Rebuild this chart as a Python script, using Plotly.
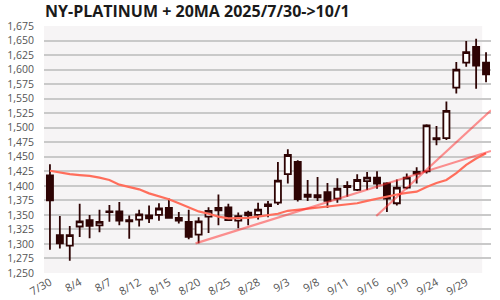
import plotly.graph_objects as go

dates = ['7/30','7/31','8/1','8/4','8/5','8/6','8/7','8/8','8/11','8/12',
         '8/13','8/14','8/15','8/18','8/19','8/20','8/21','8/22','8/25','8/26',
         '8/27','8/28','8/29','9/2','9/3','9/4','9/5','9/8','9/9','9/10',
         '9/11','9/12','9/15','9/16','9/17','9/18','9/19','9/22','9/23','9/24',
         '9/25','9/26','9/29','9/30','10/1']
open_ = [1418,1315,1297,1330,1341,1332,1356,1356,1341,1342,
         1349,1350,1362,1345,1338,1316,1347,1358,1363,1340,
         1354,1350,1365,1371,1420,1441,1381,1380,1389,1378,
         1400,1393,1408,1414,1404,1370,1397,1421,1425,1482,
         1482,1569,1612,1639,1612]
high = [1437,1348,1331,1369,1350,1359,1367,1372,1349,1359,
        1366,1370,1378,1355,1359,1346,1363,1385,1369,1354,
        1357,1371,1374,1441,1463,1444,1410,1415,1405,1413,
        1408,1420,1424,1425,1406,1411,1421,1432,1506,1503,
        1545,1613,1649,1653,1630]
low = [1290,1292,1271,1312,1310,1320,1338,1332,1309,1330,
       1336,1340,1344,1335,1308,1301,1319,1332,1340,1327,
       1332,1342,1346,1367,1404,1373,1374,1374,1362,1371,
       1381,1391,1393,1395,1355,1366,1394,1404,1421,1470,
       1479,1559,1605,1567,1578]
close = [1375,1301,1315,1339,1331,1338,1355,1340,1339,1351,
         1344,1361,1345,1340,1312,1339,1357,1362,1341,1348,
         1349,1359,1368,1409,1453,1377,1385,1384,1374,1395,
         1398,1410,1414,1404,1378,1397,1414,1424,1504,1480,
         1529,1600,1630,1607,1592]
ma20 = [1426,1422.5,1420,1418.5,1417,1414,1410,1402,1398,1394,
        1387,1382,1377,1370,1363,1356,1352,1347,1344,1344,
        1345,1347,1349,1352,1357,1359,1360,1362,1364,1366,
        1368,1370,1374,1378,1382,1385,1388,1390,1398,1405,
        1410,1422,1436,1447,1456]
trend1_x = [15, 45.41]
trend1_y = [1301, 1460]
trend2_x = [33.6, 45.41]
trend2_y = [1348, 1530]

tick_idx = list(range(0, 45, 3))
tick_txt = [dates[i] for i in tick_idx]
y_ticks = list(range(1250, 1676, 25))

x = list(range(len(dates)))
dark = '#2e0404'

fig = go.Figure()
fig.add_trace(go.Candlestick(
    x=x, open=open_, high=high, low=low, close=close,
    increasing=dict(fillcolor='#ffffff', line=dict(color=dark, width=1.8)),
    decreasing=dict(fillcolor=dark, line=dict(color=dark, width=1.8)),
    showlegend=False, hoverinfo='skip'))
fig.add_trace(go.Scatter(x=x, y=ma20, mode='lines',
                         line=dict(color='#ff6e5c', width=2.2),
                         showlegend=False, hoverinfo='skip'))
for tx, ty in [(trend1_x, trend1_y), (trend2_x, trend2_y)]:
    fig.add_trace(go.Scatter(x=tx, y=ty, mode='lines', xaxis='x2',
                             line=dict(color='rgba(255,40,40,0.5)', width=2.2),
                             showlegend=False, hoverinfo='skip'))

plot_w = 456
main_w = 447
x0, x1 = -0.6, 44.5
px_per = main_w / (x1 - x0)
x2_end = x0 + plot_w / px_per

fig.update_layout(
    width=500, height=300,
    margin=dict(l=44, r=0, t=26, b=27),
    paper_bgcolor='#ffffff', plot_bgcolor='#f6f4f5',
    boxgap=0.12,
    title=dict(text='<b>NY-PLATINUM + 20MA 2025/7/30->10/1</b>',
               font=dict(family='Open Sans', size=16, color='#1a1a1a'),
               x=45/500, xanchor='left', xref='container',
               y=1 - 11/300, yanchor='middle', yref='container'),
    xaxis=dict(domain=[0, main_w/plot_w], range=[x0, x1],
               tickvals=tick_idx, ticktext=tick_txt, tickangle=-30,
               showgrid=False, zeroline=False, showline=False,
               rangeslider=dict(visible=False), ticks='',
               tickfont=dict(family='Open Sans', size=11, color='#555555')),
    xaxis2=dict(domain=[0, 1], range=[x0, x2_end],
                overlaying='x', visible=False, anchor='y'),
    yaxis=dict(range=[1250, 1675], tickvals=y_ticks, tickformat=',d',
               showgrid=True, gridcolor='#c9c9c9', gridwidth=1.5,
               zeroline=False, showline=False, ticks='', ticklabelstandoff=9,
               tickfont=dict(family='Open Sans', size=10.5, color='#555555')),
    shapes=[dict(type='rect', xref='x2', yref='paper', x0=x1, x1=x2_end,
                 y0=-0.01, y1=1.01, fillcolor='#ffffff', line=dict(width=0),
                 layer='below')],
)
fig.write_html('out.html')
